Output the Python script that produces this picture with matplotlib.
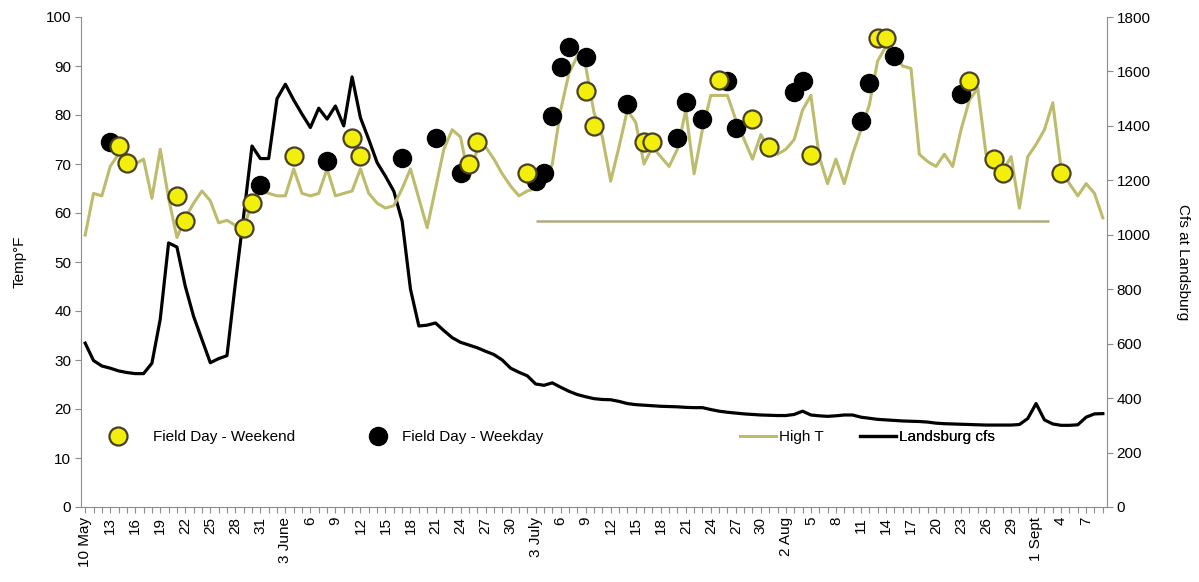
import numpy as np
import matplotlib
matplotlib.use("Agg")
import matplotlib.pyplot as plt
from matplotlib.lines import Line2D

plt.rcParams['font.family'] = ['Liberation Sans', 'DejaVu Sans']
plt.rcParams['font.size'] = 11

# daily high temperature (F), 10 May .. 9 Sept
high_t = [55.5, 64, 63.5, 69.5, 72, 72, 70, 71, 63, 73,
          63, 55, 59, 62, 64.5, 62.5, 58, 58.5, 57.5, 57,
          62, 64.5, 64, 63.5, 63.5, 69, 64, 63.5, 64, 69,
          63.5, 64, 64.5, 69, 64, 62, 61, 61.5, 65, 69,
          63, 57, 65, 73, 77, 75.5, 67, 73, 73.5, 71,
          68, 65.5, 63.5, 64.5, 65, 66, 70, 81, 88.5, 92,
          90, 80.5, 75.5, 66.5, 73.5, 81, 78.5, 70, 73.5, 71.5,
          69.5, 73, 81, 68, 77, 84, 84, 84, 79, 75,
          71, 76, 73, 72, 73, 75, 81, 84, 71.5, 66,
          71, 66, 72, 77, 82, 91, 94, 92, 90, 89.5,
          72, 70.5, 69.5, 72, 69.5, 77, 83, 85.5, 72, 71,
          68.5, 71.5, 61, 71.5, 74, 77, 82.5, 69, 66, 63.5,
          66, 64, 59]

# river flow at Landsburg (cfs)
landsburg_cfs = [602, 538, 518, 510, 500, 494, 490, 490, 528, 690,
                 970, 955, 811, 700, 615, 530, 545, 556, 820, 1070,
                 1326, 1280, 1280, 1500, 1553, 1495, 1443, 1394, 1465, 1425,
                 1473, 1400, 1580, 1430, 1350, 1265, 1215, 1160, 1050, 800,
                 665, 668, 676, 648, 622, 605, 595, 585, 572, 560,
                 540, 510, 495, 482, 452, 447, 456, 440, 425, 413,
                 405, 398, 395, 394, 388, 380, 376, 374, 372, 370,
                 369, 368, 366, 365, 365, 358, 352, 348, 345, 342,
                 340, 338, 337, 336, 336, 340, 352, 338, 335, 333,
                 335, 338, 338, 330, 326, 322, 320, 318, 316, 315,
                 314, 312, 308, 306, 305, 304, 303, 302, 301, 301,
                 301, 301, 303, 325, 380, 320, 305, 300, 300, 302,
                 330, 342, 343]

weekend_day = [4, 5, 11, 12, 19, 20, 25, 32, 33, 46, 47, 53, 60, 61,
               67, 68, 76, 80, 82, 87, 95, 96, 106, 109, 110, 117]
weekend_temp = [73.7, 70.3, 63.5, 58.3, 57.0, 62.1, 71.6, 75.4, 71.6, 69.9,
                74.4, 68.2, 84.9, 77.8, 74.4, 74.4, 87.1, 79.1, 73.5, 71.8,
                95.8, 95.8, 87.0, 71.1, 68.1, 68.1]

weekday_day = [3, 21, 29, 38, 42, 45, 54, 55, 56, 57, 58, 60, 65, 71, 72,
               74, 77, 78, 85, 86, 93, 94, 97, 105]
weekday_temp = [74.4, 65.8, 70.6, 71.2, 75.4, 68.2, 66.5, 68.2, 79.8, 89.7,
                93.8, 91.8, 82.2, 75.4, 82.7, 79.1, 87.0, 77.4, 84.6, 87.0,
                78.8, 86.5, 92.1, 84.3]

tick_labels = ["10 May", "13", "16", "19", "22", "25", "28", "31",
               "3 June", "6", "9", "12", "15", "18", "21", "24", "27", "30",
               "3 July", "6", "9", "12", "15", "18", "21", "24", "27", "30",
               "2 Aug", "5", "8", "11", "14", "17", "20", "23", "26", "29",
               "1 Sept", "4", "7"]

# stray flat line in the original chart
flat_start, flat_end, flat_temp = 54, 115.5, 58.3

olive = '#bdbb6c'
grey = '#8c8c8c'
days = np.arange(len(high_t))

fig = plt.figure(figsize=(11.99, 5.82), dpi=100)
axq = fig.add_axes([81/1199, 1-507/582, (1107-81)/1199, (507-17)/582])
ax = axq.twinx()

# flow on the bottom layer, right scale
axq.plot(days, landsburg_cfs, color='black', lw=2.3, zorder=2)
axq.set_ylim(0, 1800)
axq.set_yticks(range(0, 1801, 200))
axq.yaxis.tick_right()
axq.yaxis.set_label_position('right')
axq.set_ylabel('Cfs at Landsburg', rotation=270, labelpad=28, fontsize=11)

# temperature layer, left scale
ax.plot(days, high_t, color=olive, lw=2.2, zorder=2)
ax.hlines(flat_temp, flat_start, flat_end, color='#aeac80', lw=1.8, zorder=1)
ax.plot(weekday_day, weekday_temp, 'o', ms=13, mfc='black', mec='black', zorder=3)
ax.plot(weekend_day, weekend_temp, 'o', ms=13, mfc='#f2ef0c', mec='#4a4022',
        mew=1.6, zorder=4)
ax.set_ylim(0, 100)
ax.set_yticks(range(0, 101, 10))
ax.yaxis.tick_left()
ax.yaxis.set_label_position('left')
ax.set_ylabel('Temp\u00b0F', labelpad=14, fontsize=11)

axq.set_xlim(-0.5, len(days) - 0.5)
labels = [''] * len(days)
labels[::3] = tick_labels
axq.set_xticks(days)
axq.set_xticklabels(labels, rotation=90)

for a in (ax, axq):
    for s in a.spines.values():
        s.set_visible(False)
for side in ('left', 'right', 'bottom'):
    axq.spines[side].set_visible(True)
    axq.spines[side].set_color(grey)
axq.tick_params(axis='both', color=grey, length=4, labelsize=11, pad=3)
ax.tick_params(axis='y', color=grey, length=4, labelsize=11, pad=3)

# legend entries spread along one row inside the plot
entries = [
    (Line2D([], [], ls='', marker='o', ms=13, mfc='#f2ef0c', mec='#4a4022', mew=1.6),
     'Field Day - Weekend', 103, 2.0, 1.27),
    (Line2D([], [], ls='', marker='o', ms=13, mfc='black', mec='black'),
     'Field Day - Weekday', 363, 2.0, 0.55),
    (Line2D([], [], color=olive, lw=2.2), 'High T', 740, 2.35, 0.2),
    (Line2D([], [], color='black', lw=2.3), 'Landsburg cfs', 860, 2.35, 0.2),
]
for h, lab, px, hl, pad in entries:
    leg = ax.legend([h], [lab], loc='center left',
                    bbox_to_anchor=((px - 81) / 1026, (507 - 437) / 490),
                    frameon=False, borderpad=0, borderaxespad=0,
                    handlelength=hl, handletextpad=pad, fontsize=11)
    ax.add_artist(leg)

fig.savefig('out.png', dpi=100)
